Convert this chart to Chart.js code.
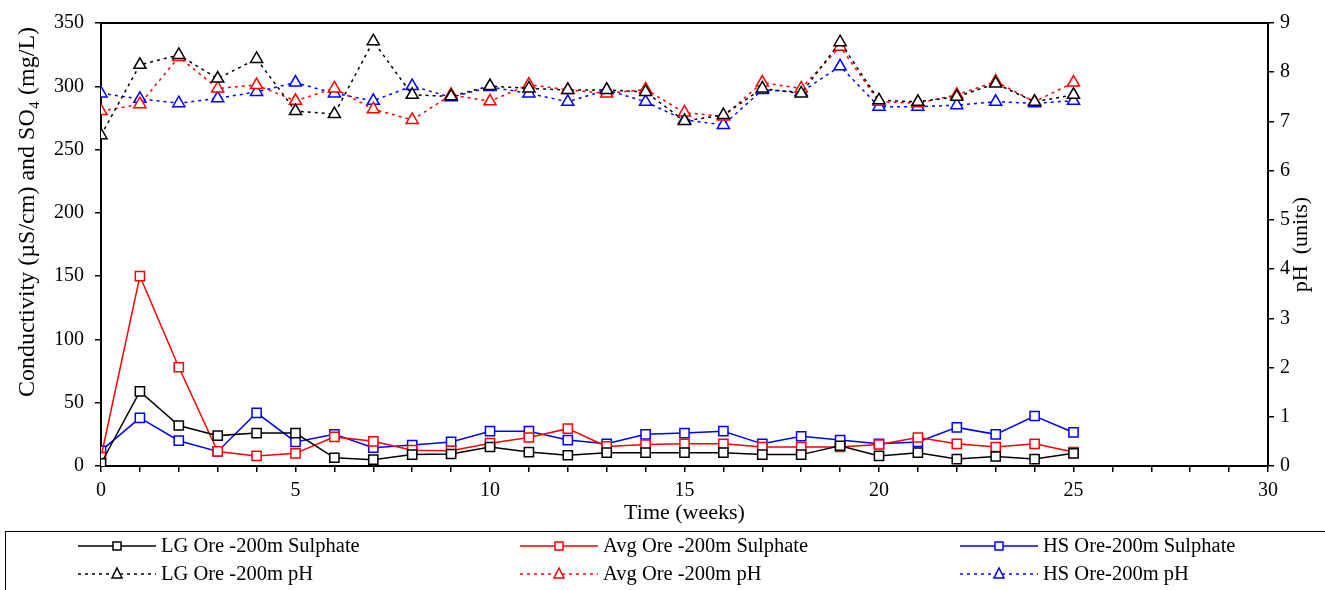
<!DOCTYPE html>
<html>
<head>
<meta charset="utf-8">
<script src="https://cdn.jsdelivr.net/npm/chart.js@4.4.0/dist/chart.umd.min.js"></script>
<style>
  html, body { margin: 0; padding: 0; background: #fff; }
</style>
</head>
<body>
<canvas id="chart" width="1325" height="590"></canvas>
<script>
// weeks of leaching
const weeks = [0, 1, 2, 3, 4, 5, 6, 7, 8, 9, 10, 11, 12, 13, 14, 15, 16, 17, 18, 19, 20, 21, 22, 23, 24, 25];

// sulphate (left axis)
const lgSulphate  = [2, 59, 32, 24, 26, 26, 6.5, 5, 9, 9.5, 15, 11, 8.5, 10.5, 10.5, 10.5, 10.5, 9, 9, 16, 8, 10.5, 5.5, 7.5, 5.5, 10];
const avgSulphate = [7, 150, 78, 11.5, 8, 10, 23, 19.5, 12.5, 12, 18, 22.5, 29.5, 15.5, 17, 17.5, 17.5, 15, 15, 15, 17, 22.5, 17.5, 15, 17.5, 11];
const hsSulphate  = [12, 38, 20, 11.5, 42, 19, 25, 14.5, 16.5, 19, 27.5, 27.5, 20.5, 17.5, 25, 26, 27.5, 17.5, 23.5, 20.5, 17.5, 19, 30.5, 25, 39.5, 26.5];

// pH (right axis)
const lgPH  = [6.72, 8.15, 8.35, 7.87, 8.27, 7.21, 7.15, 8.63, 7.54, 7.51, 7.72, 7.67, 7.64, 7.64, 7.60, 7.01, 7.13, 7.67, 7.57, 8.61, 7.43, 7.40, 7.50, 7.77, 7.40, 7.54];
const avgPH = [7.21, 7.35, 8.31, 7.67, 7.74, 7.42, 7.67, 7.25, 7.03, 7.54, 7.41, 7.75, 7.64, 7.57, 7.65, 7.18, 7.10, 7.79, 7.67, 8.52, 7.40, 7.37, 7.54, 7.81, 7.40, 7.79];
const hsPH  = [7.57, 7.46, 7.37, 7.47, 7.60, 7.79, 7.57, 7.42, 7.72, 7.49, 7.70, 7.57, 7.40, 7.64, 7.40, 7.03, 6.93, 7.64, 7.60, 8.12, 7.30, 7.30, 7.33, 7.40, 7.37, 7.42];

const seriesNames = [
  "LG Ore -200m Sulphate", "Avg Ore -200m Sulphate", "HS Ore-200m Sulphate",
  "LG Ore -200m pH", "Avg Ore -200m pH", "HS Ore-200m pH"
];
const colors = ["#000000", "#ff0000", "#0000ff"];

const FONT = "'Liberation Serif', 'Times New Roman', serif";

function pairs(values) {
  return weeks.map((w, i) => ({ x: w, y: values[i] }));
}

function sulphateSet(name, values, color) {
  return {
    label: name,
    data: pairs(values),
    yAxisID: 'y',
    borderColor: color,
    borderWidth: 1.5,
    pointStyle: 'rect',
    pointRadius: 6.5,
    pointBorderWidth: 1.5,
    pointBorderColor: color,
    pointBackgroundColor: '#fff',
    tension: 0
  };
}

function phSet(name, values, color) {
  return {
    label: name,
    data: pairs(values),
    yAxisID: 'y1',
    borderColor: color,
    borderWidth: 1.5,
    borderDash: [3, 4],
    pointStyle: 'triangle',
    pointRadius: 7,
    pointBorderWidth: 1.5,
    pointBorderColor: color,
    pointBackgroundColor: '#fff',
    tension: 0
  };
}

function rotatedText(ctx, text, x, y, size) {
  ctx.save();
  ctx.fillStyle = '#000';
  ctx.font = size + "px " + FONT;
  ctx.textAlign = 'center';
  ctx.textBaseline = 'middle';
  ctx.translate(x, y);
  ctx.rotate(-Math.PI / 2);
  ctx.fillText(text, 0, 0);
  ctx.restore();
}

// frame on top, axis titles, and the boxed legend
const extras = {
  id: 'extras',
  afterDraw(chart) {
    const ctx = chart.ctx;
    const area = chart.chartArea;
    ctx.save();

    ctx.strokeStyle = '#000';
    ctx.lineWidth = 2;
    ctx.beginPath();
    ctx.moveTo(area.left - 1, area.top);
    ctx.lineTo(area.right + 1, area.top);
    ctx.stroke();

    rotatedText(ctx, 'Conductivity (\u00b5S/cm) and SO\u2084 (mg/L)', 28, 212, 24);
    rotatedText(ctx, 'pH  (units)', 1301, (area.top + area.bottom) / 2, 22);

    // legend box
    ctx.lineWidth = 1;
    ctx.strokeRect(5.5, 531.5, 1340, 80);
    const cols = [78, 520, 960];
    const rows = [546, 574];
    chart.data.datasets.forEach((ds, i) => {
      const x0 = cols[i % 3];
      const y = rows[Math.floor(i / 3)];
      const mid = x0 + 39;
      ctx.strokeStyle = ds.borderColor;
      ctx.lineWidth = 1.5;
      ctx.setLineDash(ds.borderDash || []);
      ctx.beginPath();
      ctx.moveTo(x0, y);
      ctx.lineTo(x0 + 78, y);
      ctx.stroke();
      ctx.setLineDash([]);
      ctx.fillStyle = '#fff';
      ctx.beginPath();
      if (ds.pointStyle === 'rect') {
        ctx.rect(mid - 4, y - 4, 8, 8);
      } else {
        ctx.moveTo(mid, y - 6);
        ctx.lineTo(mid + 5, y + 4);
        ctx.lineTo(mid - 5, y + 4);
        ctx.closePath();
      }
      ctx.fill();
      ctx.stroke();
      ctx.fillStyle = '#000';
      ctx.font = "20.5px " + FONT;
      ctx.textAlign = 'left';
      ctx.textBaseline = 'middle';
      ctx.fillText(ds.label, x0 + 83, y + 1);
    });
    ctx.restore();
  }
};

const ctx = document.getElementById('chart');
new Chart(ctx, {
  type: 'line',
  data: {
    datasets: [
      sulphateSet(seriesNames[0], lgSulphate, colors[0]),
      sulphateSet(seriesNames[1], avgSulphate, colors[1]),
      sulphateSet(seriesNames[2], hsSulphate, colors[2]),
      phSet(seriesNames[3], lgPH, colors[0]),
      phSet(seriesNames[4], avgPH, colors[1]),
      phSet(seriesNames[5], hsPH, colors[2])
    ]
  },
  options: {
    responsive: false,
    animation: false,
    layout: { padding: { left: 0, right: 0, top: 19, bottom: 60 } },
    plugins: {
      legend: { display: false },
      tooltip: { enabled: false }
    },
    scales: {
      x: {
        type: 'linear',
        min: 0,
        max: 30,
        afterFit(s) { s.height = 64; },
        ticks: {
          stepSize: 1,
          autoSkip: false,
          maxRotation: 0,
          padding: 7,
          color: '#000',
          font: { family: FONT, size: 20 },
          callback: v => (v % 5 === 0 ? String(v) : '')
        },
        grid: { drawOnChartArea: false, drawTicks: true, tickLength: 6, color: '#000', lineWidth: 1.5 },
        border: { display: true, color: '#000', width: 2 },
        title: {
          display: true,
          text: 'Time (weeks)',
          color: '#000',
          font: { family: FONT, size: 22 },
          padding: { top: 0, bottom: 4 }
        }
      },
      y: {
        position: 'left',
        min: 0,
        max: 350,
        afterFit(s) { s.width = 101; },
        ticks: {
          stepSize: 50,
          padding: 11,
          color: '#000',
          font: { family: FONT, size: 20 }
        },
        grid: { drawOnChartArea: false, drawTicks: true, tickLength: 6, color: '#000', lineWidth: 1.5 },
        border: { display: true, color: '#000', width: 2 }
      },
      y1: {
        position: 'right',
        min: 0,
        max: 9,
        afterFit(s) { s.width = 57; },
        ticks: {
          stepSize: 1,
          padding: 6,
          color: '#000',
          font: { family: FONT, size: 20 }
        },
        grid: { drawOnChartArea: false, drawTicks: true, tickLength: 6, color: '#000', lineWidth: 1.5 },
        border: { display: true, color: '#000', width: 2 }
      }
    }
  },
  plugins: [extras]
});
</script>
</body>
</html>
